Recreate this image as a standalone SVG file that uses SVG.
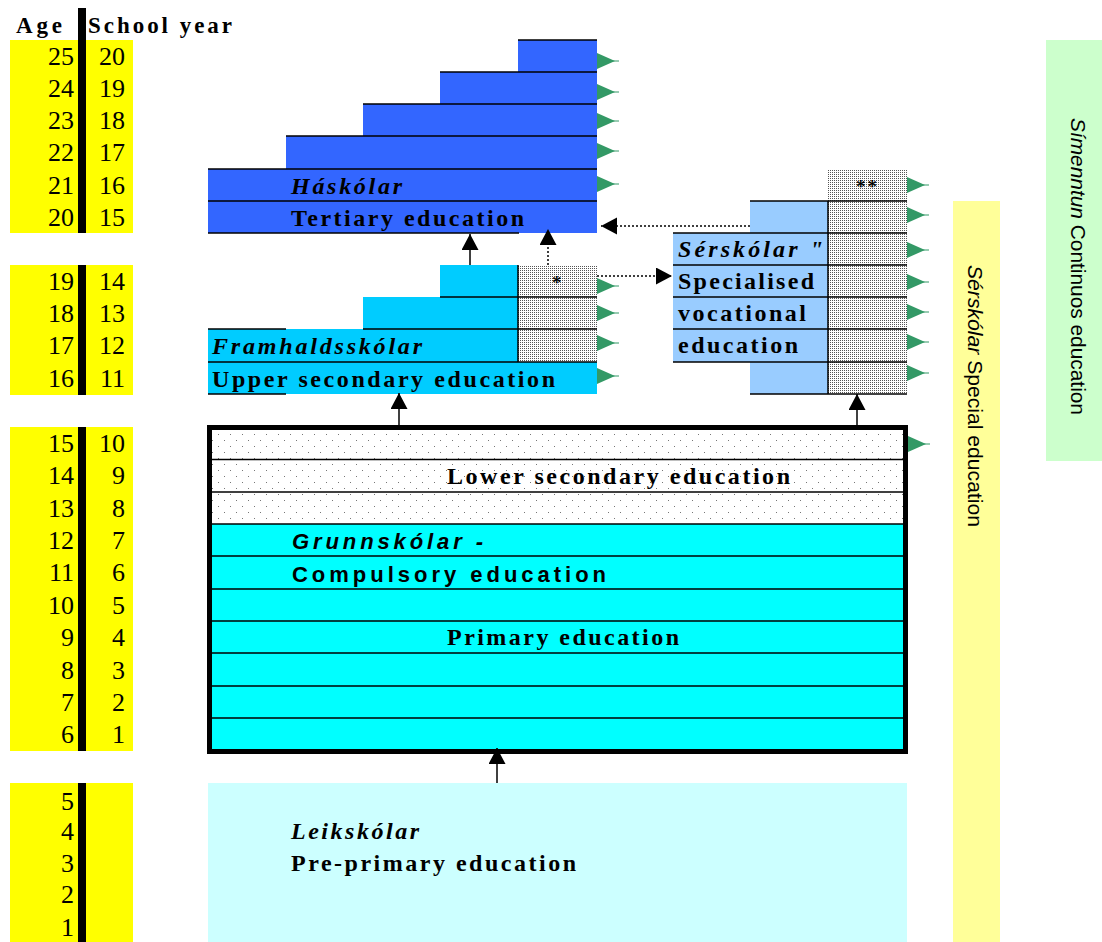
<svg xmlns="http://www.w3.org/2000/svg" xmlns:xlink="http://www.w3.org/1999/xlink" width="1102" height="942" viewBox="0 0 1102 942">
<style>
.num{font-family:"Liberation Serif",serif;font-size:26px;fill:#000;text-anchor:end}
.hd{font-family:"Liberation Serif",serif;font-size:23px;font-weight:bold;fill:#000}
.lb{font-family:"Liberation Serif",serif;font-size:24px;font-weight:bold;fill:#000}
.it{font-style:italic}
.sans{font-family:"Liberation Sans",sans-serif;font-size:22px;font-weight:bold;fill:#000}
.vt{font-family:"Liberation Sans",sans-serif;font-size:20px;fill:#000}
.ln{stroke:#000;stroke-width:1.5;fill:none}
.conn{stroke:#000;stroke-width:1.5;fill:none}
.dot{stroke-dasharray:2,2}
.tert{fill:#3366FF}
.upper{fill:#00CCFF}
.spec{fill:#99CCFF}
.stip{fill:url(#stipple)}
</style>
<defs>
<pattern id="stipple" width="2" height="2" patternUnits="userSpaceOnUse">
<rect width="2" height="2" fill="#ffffff"/>
<rect width="1" height="1" fill="#555"/>
</pattern>
<pattern id="sparse" width="12" height="12" patternUnits="userSpaceOnUse">
<rect width="12" height="12" fill="#ffffff"/>
<rect x="2" y="2" width="1" height="1" fill="#777"/>
<rect x="8" y="8" width="1" height="1" fill="#777"/>
</pattern>
<g id="tri"><polygon points="0,-8 18,0 0,8" fill="#339966"/><line x1="16" y1="0" x2="22" y2="0" stroke="#339966" stroke-width="1"/></g>
<marker id="ah" markerUnits="userSpaceOnUse" markerWidth="18" markerHeight="18" refX="16" refY="8.5" orient="auto">
<path d="M0,0 L16,8.5 L0,17 z" fill="#000"/>
</marker>
</defs>
<rect width="1102" height="942" fill="#ffffff"/>

<g id="age-scale">
<rect x="10" y="40" width="123" height="193" fill="#FFFF00"/>
<rect x="10" y="265" width="123" height="130" fill="#FFFF00"/>
<rect x="10" y="427" width="123" height="324" fill="#FFFF00"/>
<rect x="10" y="783" width="123" height="159" fill="#FFFF00"/>
<rect x="78" y="8" width="8" height="225" fill="#000"/>
<rect x="78" y="265" width="8" height="130" fill="#000"/>
<rect x="78" y="427" width="8" height="324" fill="#000"/>
<rect x="78" y="783" width="8" height="159" fill="#000"/>
<text class="hd" x="16" y="33" textLength="46" lengthAdjust="spacing">Age</text>
<text class="hd" x="88" y="33" textLength="144" lengthAdjust="spacing">School year</text>
<text class="num" x="74" y="65">25</text><text class="num" x="125" y="65">20</text>
<text class="num" x="74" y="97">24</text><text class="num" x="125" y="97">19</text>
<text class="num" x="74" y="129">23</text><text class="num" x="125" y="129">18</text>
<text class="num" x="74" y="161">22</text><text class="num" x="125" y="161">17</text>
<text class="num" x="74" y="194">21</text><text class="num" x="125" y="194">16</text>
<text class="num" x="74" y="226">20</text><text class="num" x="125" y="226">15</text>
<text class="num" x="74" y="290">19</text><text class="num" x="125" y="290">14</text>
<text class="num" x="74" y="322">18</text><text class="num" x="125" y="322">13</text>
<text class="num" x="74" y="354">17</text><text class="num" x="125" y="354">12</text>
<text class="num" x="74" y="387">16</text><text class="num" x="125" y="387">11</text>
<text class="num" x="74" y="452">15</text><text class="num" x="125" y="452">10</text>
<text class="num" x="74" y="484">14</text><text class="num" x="125" y="484">9</text>
<text class="num" x="74" y="517">13</text><text class="num" x="125" y="517">8</text>
<text class="num" x="74" y="549">12</text><text class="num" x="125" y="549">7</text>
<text class="num" x="74" y="581">11</text><text class="num" x="125" y="581">6</text>
<text class="num" x="74" y="614">10</text><text class="num" x="125" y="614">5</text>
<text class="num" x="74" y="646">9</text><text class="num" x="125" y="646">4</text>
<text class="num" x="74" y="679">8</text><text class="num" x="125" y="679">3</text>
<text class="num" x="74" y="711">7</text><text class="num" x="125" y="711">2</text>
<text class="num" x="74" y="743">6</text><text class="num" x="125" y="743">1</text>
<text class="num" x="74" y="810">5</text>
<text class="num" x="74" y="840">4</text>
<text class="num" x="74" y="872">3</text>
<text class="num" x="74" y="903">2</text>
<text class="num" x="74" y="936">1</text>
</g>

<g id="tertiary">
<rect class="tert" x="518" y="40" width="79" height="32"/>
<rect class="tert" x="440" y="72" width="157" height="32"/>
<rect class="tert" x="363" y="104" width="234" height="32"/>
<rect class="tert" x="286" y="136" width="311" height="33"/>
<rect class="tert" x="208" y="169" width="389" height="64"/>
<line class="ln" x1="518" y1="40" x2="597" y2="40"/>
<line class="ln" x1="440" y1="72" x2="597" y2="72"/>
<line class="ln" x1="363" y1="104" x2="597" y2="104"/>
<line class="ln" x1="286" y1="136" x2="597" y2="136"/>
<line class="ln" x1="208" y1="169" x2="597" y2="169"/>
<line class="ln" x1="208" y1="201" x2="597" y2="201"/>
<line class="ln" x1="208" y1="233" x2="519" y2="233"/>
<text class="lb it" x="291" y="194" textLength="111" lengthAdjust="spacing">Háskólar</text>
<text class="lb" x="291" y="226" textLength="233" lengthAdjust="spacing">Tertiary education</text>
<use xlink:href="#tri" x="597" y="61"/>
<use xlink:href="#tri" x="597" y="92"/>
<use xlink:href="#tri" x="597" y="121"/>
<use xlink:href="#tri" x="597" y="151"/>
<use xlink:href="#tri" x="597" y="184"/>
</g>

<g id="upper-secondary">
<rect class="upper" x="440" y="265" width="78" height="32"/>
<rect class="upper" x="363" y="297" width="155" height="32"/>
<rect class="upper" x="208" y="329" width="310" height="33"/>
<rect class="upper" x="208" y="362" width="389" height="32"/>
<rect class="stip" x="518" y="265" width="79" height="97"/>
<line class="ln" x1="440" y1="297" x2="597" y2="297"/>
<line class="ln" x1="363" y1="329" x2="597" y2="329"/>
<line class="ln" x1="208" y1="329" x2="286" y2="329"/>
<line class="ln" x1="208" y1="362" x2="597" y2="362"/>
<line class="ln" x1="208" y1="394" x2="286" y2="394"/>
<line class="ln" x1="518" y1="265" x2="518" y2="362"/>
<text class="lb" x="552" y="289" style="font-size:19px">*</text>
<text class="lb it" x="212" y="354" textLength="210" lengthAdjust="spacing">Framhaldsskólar</text>
<text class="lb" x="212" y="387" textLength="343" lengthAdjust="spacing">Upper secondary education</text>
<use xlink:href="#tri" x="597" y="286"/>
<use xlink:href="#tri" x="597" y="313"/>
<use xlink:href="#tri" x="597" y="343"/>
<use xlink:href="#tri" x="597" y="376"/>
</g>

<g id="special-vocational">
<rect class="spec" x="750" y="201" width="78" height="193"/>
<rect class="spec" x="673" y="233" width="155" height="129"/>
<rect class="stip" x="828" y="169" width="79" height="225"/>
<line class="ln" x1="750" y1="201" x2="907" y2="201"/>
<line class="ln" x1="673" y1="233" x2="907" y2="233"/>
<line class="ln" x1="673" y1="265" x2="907" y2="265"/>
<line class="ln" x1="673" y1="297" x2="907" y2="297"/>
<line class="ln" x1="673" y1="329" x2="907" y2="329"/>
<line class="ln" x1="673" y1="362" x2="907" y2="362"/>
<line class="ln" x1="750" y1="394" x2="907" y2="394"/>
<line class="ln" x1="828" y1="201" x2="828" y2="394"/>
<text class="lb" x="856" y="193" style="font-size:19px" textLength="21" lengthAdjust="spacing">**</text>
<text class="lb it" x="678" y="257" textLength="145" lengthAdjust="spacing">Sérskólar  "</text>
<text class="lb" x="678" y="289" textLength="136" lengthAdjust="spacing">Specialised</text>
<text class="lb" x="678" y="321" textLength="128" lengthAdjust="spacing">vocational</text>
<text class="lb" x="678" y="353" textLength="120" lengthAdjust="spacing">education</text>
<use xlink:href="#tri" x="907" y="185"/>
<use xlink:href="#tri" x="907" y="215"/>
<use xlink:href="#tri" x="907" y="250"/>
<use xlink:href="#tri" x="907" y="282"/>
<use xlink:href="#tri" x="907" y="312"/>
<use xlink:href="#tri" x="907" y="342"/>
<use xlink:href="#tri" x="907" y="373"/>
</g>

<g id="compulsory">
<rect x="209" y="427" width="696" height="97" fill="url(#sparse)"/>
<rect x="209" y="524" width="696" height="227" fill="#00FFFF"/>
<line class="ln" x1="209" y1="459.5" x2="905" y2="459.5"/>
<line class="ln" x1="209" y1="492" x2="905" y2="492"/>
<line class="ln" x1="209" y1="524" x2="905" y2="524"/>
<line class="ln" x1="209" y1="556" x2="905" y2="556"/>
<line class="ln" x1="209" y1="589" x2="905" y2="589"/>
<line class="ln" x1="209" y1="621" x2="905" y2="621"/>
<line class="ln" x1="209" y1="653" x2="905" y2="653"/>
<line class="ln" x1="209" y1="686" x2="905" y2="686"/>
<line class="ln" x1="209" y1="718" x2="905" y2="718"/>
<rect x="209.5" y="427.5" width="696" height="324" fill="none" stroke="#000" stroke-width="5"/>
<text class="lb" x="447" y="484" textLength="343" lengthAdjust="spacing">Lower secondary education</text>
<text class="sans it" x="292" y="549" textLength="191" lengthAdjust="spacing">Grunnskólar -</text>
<text class="sans" x="292" y="582" textLength="314" lengthAdjust="spacing">Compulsory education</text>
<text class="lb" x="447" y="645" textLength="232" lengthAdjust="spacing">Primary education</text>
<use xlink:href="#tri" x="908" y="444"/>
</g>

<g id="pre-primary">
<rect x="208" y="783" width="699" height="159" fill="#CCFFFF"/>
<text class="lb it" x="291" y="839" textLength="128" lengthAdjust="spacing">Leikskólar</text>
<text class="lb" x="291" y="871" textLength="285" lengthAdjust="spacing">Pre-primary education</text>
</g>

<g id="special-education">
<rect x="953" y="201" width="47" height="741" fill="#FFFF99"/>
<text class="vt" transform="translate(968,265) rotate(90)" textLength="262" lengthAdjust="spacingAndGlyphs"><tspan font-style="italic">Sérskólar</tspan> Special education</text>
</g>

<g id="continuing-education">
<rect x="1046" y="40" width="56" height="421" fill="#CCFFCC"/>
<text class="vt" transform="translate(1071,118) rotate(90)" textLength="297" lengthAdjust="spacingAndGlyphs"><tspan font-style="italic">Símenntun</tspan> Continuos education</text>
</g>

<g id="connectors">
<line class="conn" x1="470" y1="265" x2="470" y2="234" marker-end="url(#ah)"/>
<line class="conn dot" x1="548" y1="265" x2="548" y2="229" marker-end="url(#ah)"/>
<line class="conn dot" x1="597" y1="276" x2="672" y2="276" marker-end="url(#ah)"/>
<line class="conn dot" x1="750" y1="226" x2="601" y2="226" marker-end="url(#ah)"/>
<line class="conn" x1="399" y1="425" x2="399" y2="393" marker-end="url(#ah)"/>
<line class="conn" x1="857" y1="425" x2="857" y2="394" marker-end="url(#ah)"/>
<line class="conn" x1="497" y1="783" x2="497" y2="748" marker-end="url(#ah)"/>
</g>
</svg>
